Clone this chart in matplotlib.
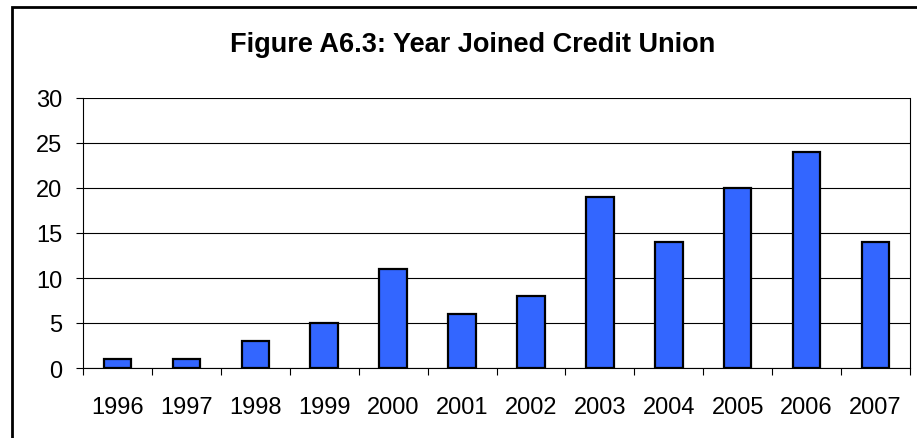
import numpy as np
import matplotlib
matplotlib.use('Agg')
import matplotlib.pyplot as plt
from matplotlib.patches import Rectangle

years = ['1996', '1997', '1998', '1999', '2000', '2001', '2002', '2003', '2004', '2005', '2006', '2007']
counts = [1, 1, 3, 5, 11, 6, 8, 19, 14, 20, 24, 14]
yticks = [0, 5, 10, 15, 20, 25, 30]
title = 'Figure A6.3: Year Joined Credit Union'

plt.rcParams['font.family'] = ['Liberation Sans', 'DejaVu Sans']

W, H = 917, 439
fig = plt.figure(figsize=(W / 100, H / 100), dpi=100)

# chart area frame (runs off the right and bottom edges)
fig.patches.append(Rectangle((12 / W, -0.05), 1.1, 1 - 8 / H + 0.05, transform=fig.transFigure,
                             fill=False, edgecolor='black', linewidth=2.0, zorder=0))

ax = fig.add_axes([83 / W, 1 - 369 / H, (910 - 83) / W, (369 - 99) / H])

x = np.arange(len(years))
ax.bar(x, counts, width=0.4, color='#3366FF', edgecolor='black', linewidth=1.6, zorder=3)

ax.set_xlim(-0.5, len(years) - 0.5)
ax.set_ylim(0, 30)
ax.set_yticks(yticks)
ax.set_yticklabels([str(v) for v in yticks], fontsize=17)
ax.yaxis.grid(True, color='black', linewidth=0.8, zorder=0)
ax.set_axisbelow(True)

# category labels sit between boundary ticks
ax.set_xticks(x)
ax.set_xticklabels(years, fontsize=17)
ax.tick_params(axis='x', length=0, pad=20)
ax.set_xticks(np.arange(-0.5, len(years), 1), minor=True)
ax.tick_params(axis='x', which='minor', length=5, width=0.8, direction='out')
ax.tick_params(axis='y', length=5, width=0.8, pad=10)

for side in ['left', 'right', 'bottom']:
    ax.spines[side].set_linewidth(0.8)
    ax.spines[side].set_color('black')
ax.spines['top'].set_visible(False)

fig.text(473 / W, 1 - 52 / H, title, ha='center', va='baseline', fontsize=19.5, fontweight='bold')

fig.savefig('out.png', dpi=100)
